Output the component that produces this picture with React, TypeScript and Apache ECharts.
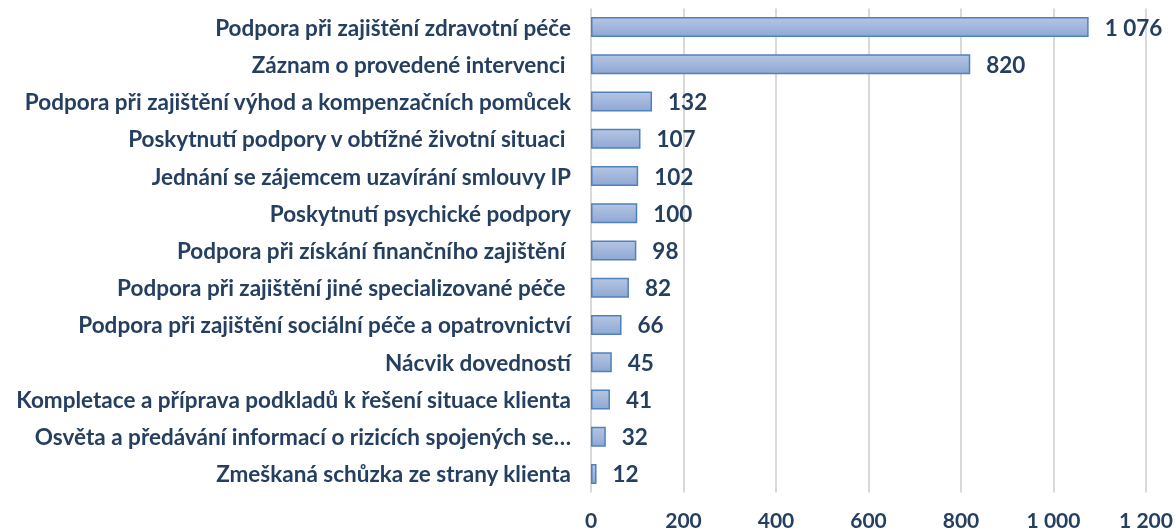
import React, { useEffect, useRef } from "react";
import * as echarts from "echarts";

const categories = [
  "Podpora při zajištění zdravotní péče",
  "Záznam o provedené intervenci ",
  "Podpora při zajištění výhod a kompenzačních pomůcek",
  "Poskytnutí podpory v obtížné životní situaci ",
  "Jednání se zájemcem uzavírání smlouvy IP",
  "Poskytnutí psychické podpory",
  "Podpora při získání finančního zajištění ",
  "Podpora při zajištění jiné specializované péče ",
  "Podpora při zajištění sociální péče a opatrovnictví",
  "Nácvik dovedností",
  "Kompletace a příprava podkladů k řešení situace klienta",
  "Osvěta a předávání informací o rizicích spojených se…",
  "Zmeškaná schůzka ze strany klienta",
];
const values = [1076, 820, 132, 107, 102, 100, 98, 82, 66, 45, 41, 32, 12];

const fmt = (v: number) => {
  const s = String(Math.round(v));
  return s.replace(/\B(?=(\d{3})+(?!\d))/g, " ");
};

const FONT = "Lato, 'Open Sans', sans-serif";
const TXT = "#243F60";
const FS = 22.5;

export default function App() {
  const ref = useRef<HTMLDivElement>(null);
  useEffect(() => {
    if (!ref.current) return;
    document.body.style.margin = "0";
    document.body.style.overflow = "hidden";
    const chart = echarts.init(ref.current, null, { renderer: "svg" });
    chart.setOption({
      animation: false,
      grid: { left: 591, right: 30, top: 8.5, bottom: 39.5, containLabel: false },
      xAxis: {
        type: "value",
        min: 0,
        max: 1200,
        interval: 200,
        axisLine: { show: false },
        axisTick: { show: false },
        splitLine: { lineStyle: { color: "#D9D9D9", width: 2 } },
        axisLabel: {
          formatter: (v: number) => fmt(v),
          color: TXT,
          fontFamily: FONT,
          fontWeight: "bold",
          fontSize: 21,
          lineHeight: 20,
          margin: 17,
        },
      },
      yAxis: {
        type: "category",
        inverse: true,
        data: categories,
        axisLine: { show: false },
        axisTick: { show: false },
        axisLabel: {
          color: TXT,
          fontFamily: FONT,
          fontWeight: "bold",
          fontSize: FS,
          margin: 20,
        },
      },
      series: [
        {
          type: "bar",
          data: values,
          barWidth: 20,
          itemStyle: {
            color: new echarts.graphic.LinearGradient(0, 0, 0, 1, [
              { offset: 0, color: "#B4C5E2" },
              { offset: 1, color: "#8FA8D4" },
            ]),
            borderColor: "#4F81BD",
            borderWidth: 1.5,
          },
          label: {
            show: true,
            position: "right",
            distance: 16,
            formatter: (p: any) => fmt(p.value),
            color: TXT,
            fontFamily: FONT,
            fontWeight: "bold",
            fontSize: FS,
          },
        },
      ],
    });
    return () => chart.dispose();
  }, []);
  return (
    <div
      ref={ref}
      style={{ position: "fixed", left: 0, top: 0, width: 1176, height: 532 }}
    />
  );
}
